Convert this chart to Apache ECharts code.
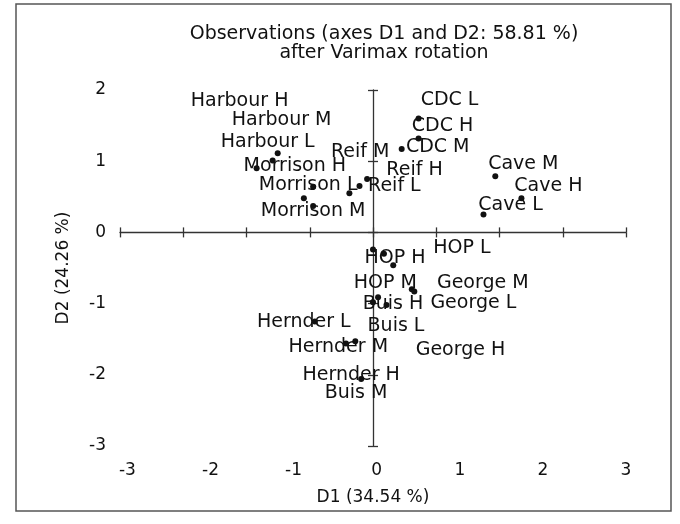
<!DOCTYPE html>
<html>
<head>
<meta charset="utf-8">
<script src="https://cdn.jsdelivr.net/npm/echarts@6/dist/echarts.min.js"></script>
<style>
html,body{margin:0;padding:0;background:#fff;}
#chart{width:680px;height:524px;}
</style>
</head>
<body>
<div id="chart"></div>
<script>
// ---- data ----
const names = ["Harbour H","Harbour M","Harbour L","Morrison H","Morrison L","Morrison M","Reif M","Reif H","Reif L",
  "CDC L","CDC H","CDC M","Cave M","Cave H","Cave L","HOP L","HOP H","HOP M",
  "George M","George L","George H","Buis H","Buis L","Buis M","Hernder L","Hernder M","Hernder H"];
const d1 = [-1.38,-1.19,-1.13,-0.82,-0.71,-0.71,-0.07,-0.16,-0.28,
  0.54,0.54,0.34,1.45,1.76,1.31,0.13,0.00,0.24,
  0.46,0.49,0.16,0.06,0.00,-0.32,-0.69,-0.21,-0.14];
const d2 = [0.90,1.01,1.11,0.48,0.64,0.37,0.75,0.65,0.55,
  1.60,1.32,1.17,0.79,0.48,0.25,-0.30,-0.24,-0.46,
  -0.80,-0.83,-1.02,-0.91,-0.98,-1.56,-1.25,-1.53,-2.06];
const xTickLabels = [-3,-2,-1,0,1,2,3];
const yTickLabels = [-3,-2,-1,0,1,2];
const titleLines = ["Observations (axes D1 and D2: 58.81 %)", "after Varimax rotation"];
const xName = "D1 (34.54 %)";
const yName = "D2 (24.26 %)";

// ---- layout (label offsets in px, relative to each point) ----
const labelShift = [[-17,-67],[9,-40],[-10,-11],[-9,-32],[-5,-2],[0,5],[-7,-27],[55,-16],[45,-7],
  [31,-18],[24,-12],[36,-2],[28,-12],[27,-12],[27,-10],[78,-6],[22,9],[-8,18],
  [71,-6],[59,12],[74,45],[15,7],[23,24],[10,50],[-11,1],[-17,6],[-10,-4]];

const FONT = 'DejaVu Sans';
const ink = '#111';
const axisCol = '#333';

const chart = echarts.init(document.getElementById('chart'));
const xRange = {min:-3, max:3};
const yRange = {min:-3, max:2};
function crossAxis(base, inside, showLine) {
  return Object.assign({type:'value', splitLine:{show:false},
    axisLabel:{show:false},
    axisLine:{show:showLine, onZero:true, onZeroAxisIndex:0, lineStyle:{color:axisCol, width:1.3}},
    axisTick:{show:true, inside:inside, length:5, lineStyle:{color:axisCol, width:1.3}}}, base);
}
chart.setOption({
  animation:false,
  grid:{left:120, right:54, top:90, bottom:78},
  graphic:[
    {type:'rect', shape:{x:16, y:4, width:655, height:507}, style:{fill:'none', stroke:'#555', lineWidth:1.5}, z:-1},
    {type:'text', x:384, y:34, style:{text:titleLines[0], textAlign:'center', textVerticalAlign:'middle', fontFamily:FONT, fontSize:19, fill:ink}},
    {type:'text', x:384, y:53, style:{text:titleLines[1], textAlign:'center', textVerticalAlign:'middle', fontFamily:FONT, fontSize:19, fill:ink}}
  ],
  xAxis:[
    crossAxis(Object.assign({position:'bottom', interval:0.75}, xRange), true, true),
    crossAxis(Object.assign({position:'bottom', interval:0.75}, xRange), false, false),
    {type:'value', position:'bottom', min:-3.089, max:3, splitLine:{show:false},
      axisLine:{show:false, onZero:false}, axisTick:{show:false},
      axisLabel:{margin:16, fontFamily:FONT, fontSize:17, color:ink, customValues:xTickLabels, showMinLabel:true, showMaxLabel:true},
      name:xName, nameLocation:'middle', nameGap:43, nameTextStyle:{fontFamily:FONT, fontSize:17, color:ink}}
  ],
  yAxis:[
    Object.assign({type:'value', position:'left', interval:1, splitLine:{show:false},
      axisLine:{show:false, onZero:false}, axisTick:{show:false},
      axisLabel:{margin:14, fontFamily:FONT, fontSize:17, color:ink, customValues:yTickLabels},
      name:yName, nameLocation:'middle', nameGap:48, nameRotate:90, nameTextStyle:{fontFamily:FONT, fontSize:17, color:ink}}, yRange),
    crossAxis(Object.assign({position:'left', interval:1}, yRange), true, true),
    crossAxis(Object.assign({position:'left', interval:1}, yRange), false, false)
  ],
  series:[{
    type:'scatter', xAxisIndex:0, yAxisIndex:0, symbolSize:6,
    itemStyle:{color:'#111', opacity:1},
    emphasis:{disabled:true},
    label:{show:true, position:'inside', formatter:'{b}', fontFamily:FONT, fontSize:19, color:ink, opacity:1},
    data:names.map((n,i)=>({name:n, value:[d1[i], d2[i]], label:{offset:labelShift[i]}}))
  }]
});
</script>
</body>
</html>
